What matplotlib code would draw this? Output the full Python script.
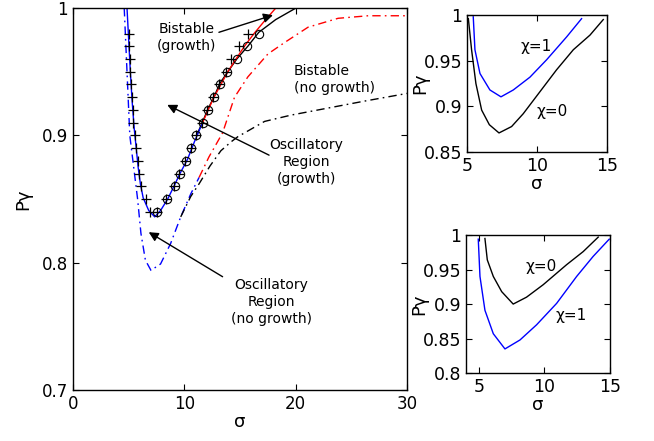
import numpy as np
import matplotlib.pyplot as plt

# limiting curves of P_gamma vs sigma (main panel)
blue_sig = [4.85, 5.0, 5.15, 5.3, 5.5, 5.7, 5.85, 6.05, 6.3, 6.8, 7.34, 7.86, 8.5, 9.06, 9.6, 10.27, 10.9, 11.63]
blue_py  = [1.0, 0.975, 0.95, 0.928, 0.905, 0.888, 0.875, 0.862, 0.851, 0.841, 0.836, 0.841, 0.85, 0.86, 0.87, 0.881, 0.895, 0.91]

red_sig = [11.63, 12.65, 13.9, 14.63, 15.39, 16.25, 17.2, 18.2]
red_py  = [0.91, 0.93, 0.95, 0.96, 0.97, 0.98, 0.99, 1.0]

black_sig = [11.1, 11.65, 12.13, 12.65, 13.19, 13.94, 14.7, 15.69, 16.68, 18.2, 20.0]
black_py  = [0.90, 0.911, 0.921, 0.930, 0.941, 0.9505, 0.960, 0.970, 0.981, 0.991, 1.0]

# circles and crosses (simulation points)
circ_sig = [7.56, 8.40, 9.12, 9.60, 10.15, 10.63, 11.08, 11.63, 12.08, 12.62, 13.19, 13.82, 14.72, 15.63, 16.68]
circ_py  = [0.84, 0.85, 0.86, 0.87, 0.88, 0.89, 0.90, 0.91, 0.92, 0.93, 0.94, 0.95, 0.96, 0.97, 0.98]

plus_sig = [5.06, 5.06, 5.12, 5.15, 5.21, 5.27, 5.36, 5.42, 5.57, 5.69, 5.84, 5.93, 6.14, 6.56, 6.90,
            7.50, 8.35, 9.07, 9.55, 10.10, 10.58, 11.03, 11.56, 12.03, 12.58, 13.13, 13.73, 14.18, 14.93, 15.69]
plus_py  = [0.98, 0.97, 0.96, 0.95, 0.94, 0.93, 0.92, 0.91, 0.90, 0.89, 0.88, 0.87, 0.86, 0.85, 0.84,
            0.84, 0.85, 0.86, 0.87, 0.88, 0.89, 0.90, 0.91, 0.92, 0.93, 0.94, 0.95, 0.96, 0.97, 0.98]

# no-growth boundaries (dash-dot)
bdd_sig = [4.6, 4.85, 5.1, 5.45, 5.8, 6.1, 6.5, 7.0, 7.86, 8.76, 9.67, 10.57, 11.32]
bdd_py  = [1.0, 0.95, 0.90, 0.875, 0.85, 0.823, 0.802, 0.794, 0.799, 0.815, 0.836, 0.854, 0.867]

rdd_sig = [11.32, 12.2, 13.43, 14.5, 15.7, 17.5, 19.0, 21.1, 23.8, 26.5, 30.0]
rdd_py  = [0.867, 0.883, 0.902, 0.93, 0.946, 0.964, 0.973, 0.985, 0.992, 0.994, 0.994]

kdd_sig = [9.67, 10.57, 11.32, 12.3, 13.28, 14.2, 14.8, 16.0, 17.2, 19.6, 23.2, 26.2, 30.0]
kdd_py  = [0.836, 0.852, 0.862, 0.876, 0.888, 0.895, 0.899, 0.905, 0.911, 0.916, 0.922, 0.927, 0.933]

# inset 1
a_chi0_sig = [5.10, 5.33, 5.64, 6.05, 6.60, 7.29, 8.19, 9.02, 10.21, 11.40, 12.6, 13.79, 14.74]
a_chi0_py  = [0.996, 0.962, 0.925, 0.896, 0.880, 0.871, 0.878, 0.892, 0.916, 0.940, 0.962, 0.978, 0.995]
a_chi1_sig = [5.45, 5.57, 5.93, 6.64, 7.43, 8.31, 9.5, 10.69, 12.12, 13.19]
a_chi1_py  = [0.998, 0.962, 0.936, 0.918, 0.9105, 0.918, 0.932, 0.951, 0.976, 0.996]

# inset 2
b_chi0_sig = [5.45, 5.63, 6.09, 6.73, 7.61, 8.63, 9.90, 11.69, 12.96, 14.11]
b_chi0_py  = [0.995, 0.964, 0.940, 0.918, 0.900, 0.910, 0.928, 0.957, 0.976, 0.997]
b_chi1_sig = [4.94, 5.07, 5.45, 6.09, 6.98, 8.13, 9.40, 10.93, 12.46, 13.72, 14.95]
b_chi1_py  = [0.994, 0.940, 0.891, 0.857, 0.835, 0.848, 0.870, 0.901, 0.940, 0.969, 0.994]

dashdot = (0, (6, 3, 1.2, 3))


def style(ax, size):
    ax.tick_params(direction='in', top=True, right=True, length=4, labelsize=size)
    for s in ax.spines.values():
        s.set_linewidth(1.0)


fig = plt.figure(figsize=(6.54, 4.41), dpi=100)

ax = fig.add_axes([0.1116, 0.1156, 0.511, 0.866])
ax.plot(bdd_sig, bdd_py, color='b', ls=dashdot, lw=1)
ax.plot(rdd_sig, rdd_py, color='r', ls=dashdot, lw=1)
ax.plot(kdd_sig, kdd_py, color='k', ls=dashdot, lw=1)
ax.plot(black_sig, black_py, color='k', lw=1)
ax.plot(blue_sig, blue_py, color='b', lw=1)
ax.plot(red_sig, red_py, color='r', lw=1)
ax.plot(circ_sig, circ_py, 'ko', mfc='none', ms=6, mew=0.8)
ax.plot(plus_sig, plus_py, 'k+', ms=7, mew=0.9)

ax.set_xlim(0, 30)
ax.set_ylim(0.7, 1.0)
ax.set_xticks([0, 10, 20, 30])
ax.set_yticks([0.7, 0.8, 0.9, 1.0])
ax.set_yticklabels(['0.7', '0.8', '0.9', '1'])
ax.set_xlabel('σ', fontsize=13, labelpad=0)
ax.set_ylabel('Pγ', fontsize=13, labelpad=7)
style(ax, 12)

arrow = dict(arrowstyle='-|>', color='k', lw=1, mutation_scale=14, shrinkA=0, shrinkB=0)
ax.annotate('', xy=(17.95, 0.9945), xytext=(13.1, 0.981), arrowprops=arrow)
ax.annotate('', xy=(8.46, 0.924), xytext=(17.6, 0.8845), arrowprops=arrow)
ax.annotate('', xy=(6.8, 0.824), xytext=(13.43, 0.789), arrowprops=arrow)

ax.text(10.2, 0.977, 'Bistable\n(growth)', ha='center', va='center', fontsize=10, linespacing=1.25)
ax.text(19.8, 0.944, 'Bistable\n(no growth)', ha='left', va='center', fontsize=10, linespacing=1.25)
ax.text(20.95, 0.879, 'Oscillatory\nRegion\n(growth)', ha='center', va='center', fontsize=10, linespacing=1.25)
ax.text(17.8, 0.769, 'Oscillatory\nRegion\n(no growth)', ha='center', va='center', fontsize=10, linespacing=1.25)

# inset: top
ax1 = fig.add_axes([0.714, 0.655, 0.214, 0.311])
ax1.plot(a_chi0_sig, a_chi0_py, color='k', lw=1)
ax1.plot(a_chi1_sig, a_chi1_py, color='b', lw=1)
ax1.set_xlim(5, 15)
ax1.set_ylim(0.85, 1.0)
ax1.set_xticks([5, 10, 15])
ax1.set_yticks([0.85, 0.9, 0.95, 1.0])
ax1.set_yticklabels(['0.85', '0.9', '0.95', '1'])
ax1.set_xlabel('σ', fontsize=13, labelpad=0)
ax1.set_ylabel('Pγ', fontsize=13, labelpad=-4)
ax1.text(9.91, 0.965, 'χ=1', ha='center', va='center', fontsize=11)
ax1.text(11.05, 0.894, 'χ=0', ha='center', va='center', fontsize=11)
style(ax1, 12.5)

# inset: bottom
ax2 = fig.add_axes([0.7125, 0.154, 0.220, 0.313])
ax2.plot(b_chi0_sig, b_chi0_py, color='k', lw=1)
ax2.plot(b_chi1_sig, b_chi1_py, color='b', lw=1)
ax2.set_xlim(4, 15)
ax2.set_ylim(0.8, 1.0)
ax2.set_xticks([5, 10, 15])
ax2.set_yticks([0.8, 0.85, 0.9, 0.95, 1.0])
ax2.set_yticklabels(['0.8', '0.85', '0.9', '0.95', '1'])
ax2.set_xlabel('σ', fontsize=13, labelpad=0)
ax2.set_ylabel('Pγ', fontsize=13, labelpad=-4)
ax2.text(9.78, 0.954, 'χ=0', ha='center', va='center', fontsize=11)
ax2.text(12.07, 0.883, 'χ=1', ha='center', va='center', fontsize=11)
style(ax2, 12.5)

fig.savefig('out.png', dpi=100)
